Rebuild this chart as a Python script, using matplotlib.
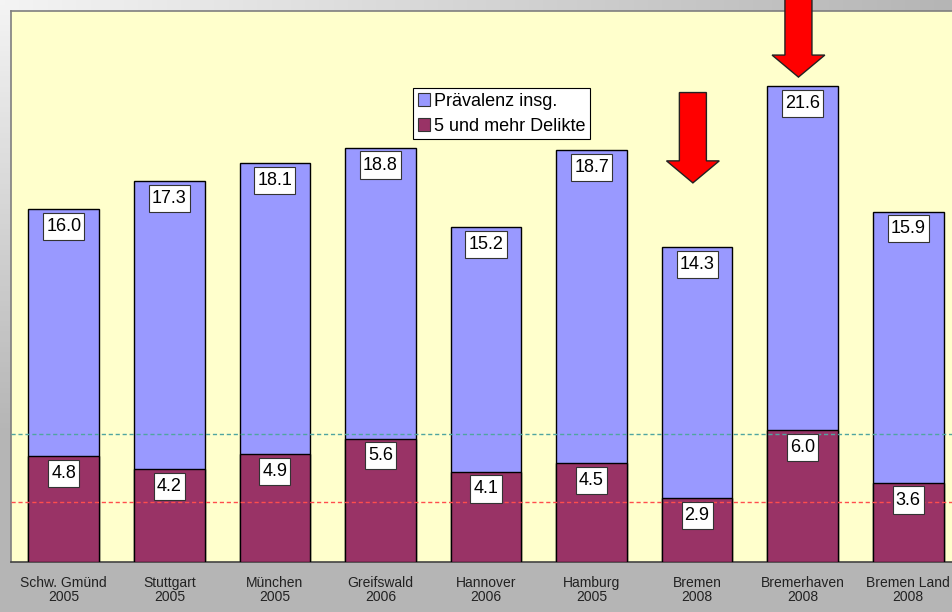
import numpy as np
import matplotlib
matplotlib.use("Agg")
import matplotlib.pyplot as plt
from matplotlib.patches import Patch, FancyArrow
from matplotlib.path import Path
from matplotlib.colors import to_rgb

plt.rcParams['font.family'] = ['Liberation Sans', 'DejaVu Sans']

# data
cities = ['Schw. Gmünd', 'Stuttgart', 'München', 'Greifswald', 'Hannover',
          'Hamburg', 'Bremen', 'Bremerhaven', 'Bremen Land']
years = ['2005', '2005', '2005', '2006', '2006', '2005', '2008', '2008', '2008']
praevalenz = [16.0, 17.3, 18.1, 18.8, 15.2, 18.7, 14.3, 21.6, 15.9]
mehrfach = [4.8, 4.2, 4.9, 5.6, 4.1, 4.5, 2.9, 6.0, 3.6]
ref_green = 5.82
ref_red = 2.73

BLUE = '#9999ff'
MAROON = '#993366'

W, H = 953, 612
fig = plt.figure(figsize=(W / 100, H / 100), dpi=100)
fig.patch.set_facecolor('#b5b5b5')

# background gradient (light top-left, gray elsewhere)
bg = fig.add_axes([0, 0, 1, 1], zorder=-10)
light = np.array(to_rgb('#f4f4f4'))
gray = np.array(to_rgb('#b5b5b5'))
X, Y = np.meshgrid(np.linspace(0, 1, 200), np.linspace(0, 1, 120))
t = np.clip(np.maximum(X, Y * 1.4), 0, 1)
img = light[None, None, :] * (1 - t[..., None]) + gray[None, None, :] * t[..., None]
bg.imshow(img, aspect='auto', extent=[0, 1, 0, 1], origin='upper')
bg.set_axis_off()


def label_box(x0, y0, width, height, mutation_size):
    # rectangle a bit taller than wide padding, like the original labels
    px = 0.17 * mutation_size
    py = 0.28 * mutation_size
    return Path([(x0 - px, y0 - py), (x0 + width + px, y0 - py),
                 (x0 + width + px, y0 + height + py), (x0 - px, y0 + height + py),
                 (x0 - px, y0 - py)], closed=True)


ax = fig.add_axes([11 / W, 50 / H, 950 / W, 551 / H])
ax.set_facecolor('#ffffcc')

x = np.arange(len(cities))
bw = 0.67
ax.bar(x, praevalenz, bw, color=BLUE, edgecolor='black', linewidth=1, zorder=2)
ax.bar(x, mehrfach, bw, color=MAROON, edgecolor='black', linewidth=1, zorder=3)

ax.axhline(ref_green, color='#4fa5a0', lw=1, ls=(0, (3, 2)), zorder=4)
ax.axhline(ref_red, color='#ff4d4d', lw=1, ls=(0, (3, 2)), zorder=4)

box = dict(boxstyle=label_box, facecolor='white', edgecolor='#333333', linewidth=0.8)
for vals in (praevalenz, mehrfach):
    for xi, v in zip(x, vals):
        ax.annotate('%.1f' % v, xy=(xi, v), xytext=(0, -12.5), textcoords='offset points',
                    ha='center', va='center', fontsize=13, bbox=box, zorder=6)

# red arrows pointing at Bremen and Bremerhaven
arrows = [(5.96, 21.3, 17.2), (6.96, 26.5, 22.0)]
for ax_x, top, tip in arrows:
    ax.add_patch(FancyArrow(ax_x, top, 0, tip - top, width=0.256, head_width=0.50,
                            head_length=1.0, length_includes_head=True,
                            facecolor='#ff0000', edgecolor='#222222', linewidth=1.0,
                            clip_on=False, zorder=7))

ax.set_xlim(-0.5, 8.5)
ax.set_ylim(0, 25)
ax.set_yticks([])
ax.set_xticks(x)
ax.set_xticklabels([c + '\n' + y for c, y in zip(cities, years)], fontsize=10,
                   color='#222222', linespacing=1.05)
ax.tick_params(axis='x', length=0, pad=10)
for s in ['left', 'top']:
    ax.spines[s].set_color('#7f7f7f')
    ax.spines[s].set_linewidth(1.2)
ax.spines['bottom'].set_color('#444444')
ax.spines['bottom'].set_linewidth(1.2)
ax.spines['right'].set_visible(False)

handles = [Patch(facecolor=BLUE, edgecolor='#333333', linewidth=0.8),
           Patch(facecolor=MAROON, edgecolor='#333333', linewidth=0.8)]
leg = ax.legend(handles, ['Prävalenz insg.', '5 und mehr Delikte'],
                loc='upper left', bbox_to_anchor=(413 / W, 1 - 88 / H),
                bbox_transform=fig.transFigure, fontsize=13, frameon=True,
                fancybox=False, framealpha=1, edgecolor='black', facecolor='white',
                handlelength=0.7, handleheight=0.7, handletextpad=0.2,
                borderpad=0.25, labelspacing=0.45, borderaxespad=0)
leg.get_frame().set_linewidth(0.8)
leg.set_zorder(8)

fig.savefig('out.png', dpi=100, facecolor=fig.get_facecolor())
